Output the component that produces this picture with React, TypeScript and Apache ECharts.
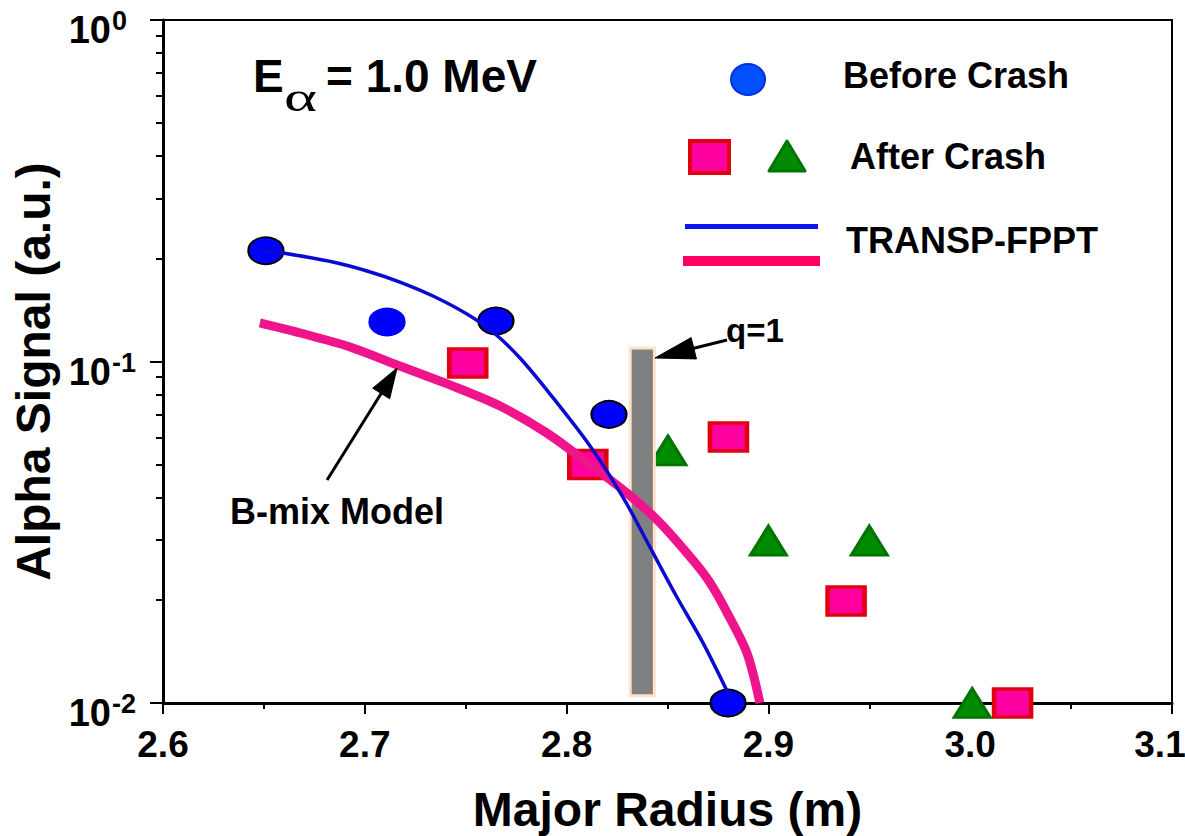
import React, { useEffect, useRef } from "react";
import * as echarts from "echarts";

const FONT = '"Liberation Sans", Arial, Helvetica, sans-serif';

// ---- data ----
const beforeCrash: [number, number][] = [
  [2.651, 0.211],
  [2.711, 0.1305],
  [2.765, 0.1314],
  [2.821, 0.07],
  [2.88, 0.01],
];
const afterCrashSquares: [number, number][] = [
  [2.751, 0.099],
  [2.8105, 0.0499],
  [2.8802, 0.0601],
  [2.9385, 0.0199],
  [3.021, 0.01],
];
const afterCrashTriangles: [number, number][] = [
  [2.8502, 0.0549],
  [2.9, 0.0299],
  [2.95, 0.0299],
  [3.001, 0.01],
];
const transpBefore: [number, number][] = [
  [2.6481, 0.2121],
  [2.6595, 0.2078],
  [2.6842, 0.1956],
  [2.7011, 0.1841],
  [2.7174, 0.1709],
  [2.7338, 0.1555],
  [2.7506, 0.1377],
  [2.7635, 0.122],
  [2.7769, 0.1024],
  [2.7918, 0.0803],
  [2.8116, 0.0566],
  [2.8279, 0.0401],
  [2.8413, 0.0286],
  [2.8547, 0.0204],
  [2.8676, 0.015],
  [2.881, 0.0104],
];
const bMixModel: [number, number][] = [
  [2.648, 0.1297],
  [2.668, 0.1212],
  [2.6927, 0.1103],
  [2.716, 0.0977],
  [2.7422, 0.0854],
  [2.767, 0.0741],
  [2.7903, 0.0617],
  [2.8131, 0.0491],
  [2.8299, 0.0412],
  [2.8463, 0.0337],
  [2.8626, 0.0262],
  [2.8711, 0.0225],
  [2.8795, 0.0184],
  [2.8894, 0.014],
  [2.8958, 0.01],
];
const q1Band = { x0: 2.8315, x1: 2.8435, y0: 0.0105, y1: 0.1095 };
const q1ArrowTail: [number, number] = [2.8795, 0.1156];
const q1ArrowTip: [number, number] = [2.8438, 0.1024];
const bMixArrowTail: [number, number] = [2.6813, 0.045];
const bMixArrowTip: [number, number] = [2.716, 0.0957];

const xTickMin = 2.6;
const xTickMax = 3.1;
const xTickStep = 0.1;
const yMin = 0.01;
const yMax = 1;
const yDecadeTicks = [0.01, 0.1, 1];
const yMinorTicks = [
  0.02, 0.03, 0.04, 0.05, 0.06, 0.07, 0.08, 0.09,
  0.2, 0.3, 0.4, 0.5, 0.6, 0.7, 0.8, 0.9,
];

function arrow(tail: number[], tip: number[], headLen: number, halfW: number): any[] {
  const dx = tip[0] - tail[0];
  const dy = tip[1] - tail[1];
  const len = Math.sqrt(dx * dx + dy * dy);
  const ux = dx / len;
  const uy = dy / len;
  const bx = tip[0] - ux * headLen;
  const by = tip[1] - uy * headLen;
  const px = -uy;
  const py = ux;
  return [
    {
      type: "line",
      shape: { x1: tail[0], y1: tail[1], x2: bx + ux * 2, y2: by + uy * 2 },
      style: { stroke: "#000", lineWidth: 3 },
      z: 20,
    },
    {
      type: "polygon",
      shape: {
        points: [
          [tip[0], tip[1]],
          [bx + px * halfW, by + py * halfW],
          [bx - px * halfW, by - py * halfW],
        ],
      },
      style: { fill: "#000", stroke: "#000", lineWidth: 1 },
      z: 20,
    },
  ];
}

export default function App() {
  const ref = useRef<HTMLDivElement>(null);
  useEffect(() => {
    if (!ref.current) return;
    const chart = echarts.init(ref.current, null, { renderer: "svg" });
    const option: any = {
      animation: false,
      backgroundColor: "#fff",
      grid: {
        left: 163,
        right: 13,
        top: 20,
        bottom: 133,
        containLabel: false,
        outerBoundsMode: "none",
        show: true,
        borderColor: "#000",
        borderWidth: 2,
        backgroundColor: "transparent",
      },
      xAxis: {
        type: "value",
        min: xTickMin,
        max: xTickMax,
        interval: xTickStep,
        name: "Major Radius (m)",
        nameLocation: "middle",
        nameGap: 82,
        nameTextStyle: { fontSize: 48, fontWeight: "bold", fontFamily: FONT, color: "#000" },
        axisLine: { show: true, onZero: false, lineStyle: { color: "#000", width: 3 } },
        axisTick: { show: true, length: 11, lineStyle: { color: "#000", width: 2 } },
        minorTick: { show: true, splitNumber: 2, length: 6, lineStyle: { color: "#000", width: 2 } },
        splitLine: { show: false },
        minorSplitLine: { show: false },
        axisLabel: {
          margin: 23,
          fontSize: 37,
          fontWeight: "bold",
          fontFamily: FONT,
          color: "#000",
          showMaxLabel: false,
          formatter: (v: number) => v.toFixed(1),
        },
      },
      yAxis: [
        {
          type: "log",
          logBase: 10,
          min: yMin,
          max: yMax,
          name: "Alpha Signal (a.u.)",
          nameLocation: "middle",
          nameGap: 106,
          nameTextStyle: {
            fontSize: 48,
            fontWeight: "bold",
            fontFamily: FONT,
            color: "#000",
            padding: [0, 20, 0, 0],
          },
          axisLine: { show: true, onZero: false, lineStyle: { color: "#000", width: 3 } },
          axisTick: { show: true, length: 13, lineStyle: { color: "#000", width: 2 } },
          splitLine: { show: false },
          axisLabel: { show: false },
        },
        {
          type: "value",
          min: Math.log10(yMin),
          max: Math.log10(yMax),
          position: "left",
          axisLine: { show: false },
          axisLabel: { show: false },
          splitLine: { show: false },
          axisTick: {
            show: true,
            length: 7,
            customValues: yMinorTicks.map((v) => Math.log10(v)),
            lineStyle: { color: "#000", width: 2 },
          },
        },
      ],
      series: [
        {
          name: "Before Crash",
          type: "scatter",
          z: 3,
          symbol: "circle",
          symbolSize: [35, 27],
          data: beforeCrash.map((p, i) => ({
            value: p,
            itemStyle: {
              color: "#0000ff",
              opacity: 1,
              borderColor: i === 1 ? "#0000ff" : "#000",
              borderWidth: 2,
            },
          })),
        },
        {
          name: "After Crash",
          type: "scatter",
          z: 3,
          symbol: "rect",
          symbolSize: [37, 28],
          itemStyle: { color: "#ff00a0", borderColor: "#e00010", borderWidth: 4, opacity: 1 },
          data: afterCrashSquares,
        },
        {
          name: "After Crash ",
          type: "scatter",
          z: 3,
          symbol: "triangle",
          symbolSize: [36, 29],
          itemStyle: { color: "#008c00", borderColor: "#007400", borderWidth: 3, opacity: 1 },
          data: afterCrashTriangles,
        },
        {
          name: "q=1",
          type: "line",
          z: 4,
          data: [],
          markArea: {
            silent: true,
            z: 4,
            itemStyle: { color: "#808080", borderColor: "#ffe2cc", borderWidth: 3, opacity: 1 },
            data: [[{ coord: [q1Band.x0, q1Band.y0] }, { coord: [q1Band.x1, q1Band.y1] }]],
          },
        },
        {
          name: "B-mix Model",
          type: "line",
          z: 5,
          smooth: 0.3,
          showSymbol: false,
          lineStyle: { color: "#f0148c", width: 9 },
          data: bMixModel,
        },
        {
          name: "TRANSP-FPPT",
          type: "line",
          z: 6,
          smooth: 0.3,
          showSymbol: false,
          lineStyle: { color: "#0a0ad0", width: 3.5 },
          data: transpBefore,
        },
      ],
    };
    chart.setOption(option);

    const toPx = (p: number[]) => chart.convertToPixel({ gridIndex: 0 }, p) as number[];
    const textEl = (
      text: string,
      x: number,
      y: number,
      size: number,
      align: string = "left"
    ) => ({
      type: "text",
      z: 30,
      style: {
        text,
        x,
        y,
        fill: "#000",
        fontSize: size,
        fontWeight: "bold",
        fontFamily: FONT,
        align,
        verticalAlign: "middle",
      },
    });

    const yLabels: any[] = [];
    yDecadeTicks.forEach((v) => {
      const py = toPx([xTickMin, v])[1];
      const exp = Math.round(Math.log10(v));
      yLabels.push(textEl("10", 111, py + 10, 38, "right"));
      yLabels.push(textEl(String(exp), 112, py + 1, 27, "left"));
    });
    const maxPx = toPx([xTickMax, yMin]);

    const graphic: any[] = [
      ...yLabels,
      textEl(xTickMax.toFixed(1), maxPx[0] - 12, maxPx[1] + 23 + 18.5, 37, "center"),
      textEl("E", 253, 76, 46),
      {
        type: "text",
        z: 30,
        x: 284,
        y: 97,
        scaleX: 1.5,
        style: {
          text: "α",
          x: 0,
          y: 0,
          fill: "#000",
          fontSize: 42,
          fontWeight: "normal",
          fontFamily: '"Liberation Serif", "Times New Roman", serif',
          align: "left",
          verticalAlign: "middle",
        },
      },
      textEl("= 1.0 MeV", 326, 76, 46),
      {
        type: "ellipse",
        z: 30,
        shape: { cx: 748, cy: 79.5, rx: 17, ry: 15.5 },
        style: { fill: "#0050ff", stroke: "#0030e0", lineWidth: 2 },
      },
      textEl("Before Crash", 843, 75, 36),
      {
        type: "rect",
        z: 30,
        shape: { x: 690, y: 141, width: 39, height: 32 },
        style: { fill: "#ff00a0", stroke: "#e00010", lineWidth: 4 },
      },
      {
        type: "polygon",
        z: 30,
        shape: { points: [[787, 141], [769, 171], [805, 171]] },
        style: { fill: "#008c00", stroke: "#007400", lineWidth: 3, lineJoin: "round" },
      },
      textEl("After Crash", 850, 156.5, 36),
      {
        type: "line",
        z: 30,
        shape: { x1: 685, y1: 226.5, x2: 818, y2: 226.5 },
        style: { stroke: "#0a14f0", lineWidth: 5 },
      },
      {
        type: "line",
        z: 30,
        shape: { x1: 683, y1: 261, x2: 820, y2: 261 },
        style: { stroke: "#ff0066", lineWidth: 10 },
      },
      textEl("TRANSP-FPPT", 846, 240, 36),
      textEl("q=1", 726, 330, 33),
      textEl("B-mix Model", 230, 511, 36),
      ...arrow(toPx(q1ArrowTail), toPx(q1ArrowTip), 40, 11),
      ...arrow(toPx(bMixArrowTail), toPx(bMixArrowTip), 30, 10),
    ];
    chart.setOption({ graphic });

    return () => chart.dispose();
  }, []);
  return (
    <div
      ref={ref}
      style={{ position: "fixed", left: 0, top: 0, width: 1185, height: 836, background: "#fff" }}
    />
  );
}
